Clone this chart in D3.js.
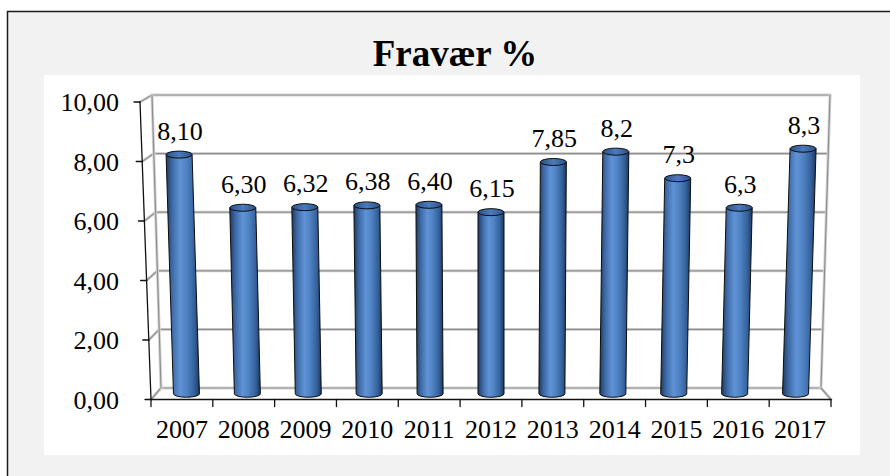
<!DOCTYPE html>
<html>
<head>
<meta charset="utf-8">
<script src="https://cdn.jsdelivr.net/npm/d3@7"></script>
<style>
  html, body { margin: 0; background: #fff; overflow: hidden; }
  svg { display: block; font-family: "Liberation Serif", "Times New Roman", serif; }
</style>
</head>
<body>
<div id="chart"></div>
<script>
// data
const years = ['2007', '2008', '2009', '2010', '2011', '2012', '2013', '2014', '2015', '2016', '2017'];
const values = [8.10, 6.30, 6.32, 6.38, 6.40, 6.15, 7.85, 8.2, 7.3, 6.3, 8.3];
const valueLabels = ['8,10', '6,30', '6,32', '6,38', '6,40', '6,15', '7,85', '8,2', '7,3', '6,3', '8,3'];
const title = 'Fravær %';

const W = 890, H = 476;
const svg = d3.select('#chart').append('svg')
  .attr('width', W)
  .attr('height', H);

// frame (only top and left edges are inside the picture) + plot area
svg.append('rect')
  .attr('x', 7).attr('y', 11).attr('width', W).attr('height', H)
  .attr('fill', '#f2f2f2');
svg.append('path')
  .attr('d', `M7.5,${H} V11.5 H${W}`)
  .attr('fill', 'none').attr('stroke', '#1a1a1a').attr('stroke-width', 1.5);
svg.append('rect')
  .attr('x', 44).attr('y', 75).attr('width', 816).attr('height', 380)
  .attr('fill', '#fff');

svg.append('text')
  .attr('x', 455).attr('y', 66)
  .attr('text-anchor', 'middle')
  .attr('font-size', 37).attr('font-weight', 'bold')
  .text(title);

// perspective "3D" projection: u across (0..1), v value, d depth (0 front, 1 back)
const cx = 491;
const yFront = d3.scaleLinear().domain([0, 10]).range([399.5, 102]);
const yBack = d3.scaleLinear().domain([0, 10]).range([388, 95]);
const hwFront = d3.scaleLinear().domain([0, 10]).range([340, 351]);
const hwBack = d3.scaleLinear().domain([0, 10]).range([330, 339]);
const u = d3.scaleBand().domain(years).range([0, 1]);

function proj(uu, v, d) {
  let y = yFront(v) * (1 - d) + yBack(v) * d;
  let hw = hwFront(v) * (1 - d) + hwBack(v) * d;
  return {x: cx + (2 * uu - 1) * hw, y: y};
}

const fmt = d3.formatLocale({decimal: ',', thousands: '.', grouping: [3], currency: ['', '']}).format('.2f');
const yTicks = yFront.ticks(5);

const grid = svg.append('g')
  .attr('fill', 'none')
  .attr('stroke-linecap', 'round');

function seg(a, b, color, w) {
  grid.append('line')
    .attr('x1', a.x).attr('y1', a.y).attr('x2', b.x).attr('y2', b.y)
    .attr('stroke', color).attr('stroke-width', w);
}
function greyLine(a, b) {
  seg(a, b, '#d4d4d4', 3);
  seg(a, b, '#8f8f8f', 1.2);
}

// back wall + side wall grid lines
yTicks.forEach(t => {
  greyLine(proj(0, t, 1), proj(1, t, 1));
  greyLine(proj(0, t, 0), proj(0, t, 1));
});
greyLine(proj(0, 0, 1), proj(0, 10, 1));
greyLine(proj(1, 0, 1), proj(1, 10, 1));
greyLine(proj(1, 0, 0), proj(1, 0, 1));

// front axes
seg(proj(0, 0, 0), proj(0, 10, 0), '#111', 1.3);
seg(proj(0, 0, 0), proj(1, 0, 0), '#111', 1.3);

yTicks.forEach(t => {
  let p = proj(0, t, 0);
  seg({x: p.x - 6, y: p.y}, p, '#111', 1.3);
  svg.append('text')
    .attr('x', 119).attr('y', p.y + 9)
    .attr('text-anchor', 'end')
    .attr('font-size', 26)
    .text(fmt(t));
});

d3.range(years.length + 1).forEach(k => {
  let p = proj(k / years.length, 0, 0);
  seg(p, {x: p.x, y: p.y + 7}, '#111', 1.3);
});

svg.selectAll('.xlab')
  .data(years)
  .join('text')
    .attr('class', 'xlab')
    .attr('x', d => proj(u(d) + u.bandwidth() / 2, 0, 0).x)
    .attr('y', 438)
    .attr('text-anchor', 'middle')
    .attr('font-size', 26)
    .text(d => d);

// cylinder shading
const defs = svg.append('defs');
const bodyGrad = defs.append('linearGradient').attr('id', 'cyl')
  .attr('x1', 0).attr('x2', 1).attr('y1', 0).attr('y2', 0);
[[0, '#1f3a60'], [0.18, '#3d6aa6'], [0.42, '#5f93d6'], [0.62, '#4f82c2'], [0.85, '#33609a'], [1, '#1d385c']]
  .forEach(s => bodyGrad.append('stop').attr('offset', s[0]).attr('stop-color', s[1]));
const capGrad = defs.append('linearGradient').attr('id', 'cap')
  .attr('x1', 0).attr('x2', 1).attr('y1', 0).attr('y2', 0);
[[0, '#2c5288'], [0.5, '#4a7bbd'], [1, '#2c5288']]
  .forEach(s => capGrad.append('stop').attr('offset', s[0]).attr('stop-color', s[1]));

const rx = 13, ry = 3.5, depth = 0.5;
const bars = svg.append('g');
years.forEach((yr, i) => {
  let uc = u(yr) + u.bandwidth() / 2;
  let b = proj(uc, 0, depth);
  let t = proj(uc, values[i], depth);
  bars.append('path')
    .attr('d', `M${b.x - rx},${b.y} L${t.x - rx},${t.y} L${t.x + rx},${t.y} L${b.x + rx},${b.y}` +
      ` A${rx},${ry} 0 0 1 ${b.x - rx},${b.y} Z`)
    .attr('fill', 'url(#cyl)')
    .attr('stroke', '#0d0d0d').attr('stroke-width', 1);
  bars.append('ellipse')
    .attr('cx', t.x).attr('cy', t.y).attr('rx', rx).attr('ry', ry)
    .attr('fill', 'url(#cap)')
    .attr('stroke', '#0d0d0d').attr('stroke-width', 1);
  svg.append('text')
    .attr('x', t.x + 1).attr('y', t.y - 15)
    .attr('text-anchor', 'middle')
    .attr('font-size', 26)
    .text(valueLabels[i]);
});
</script>
</body>
</html>
